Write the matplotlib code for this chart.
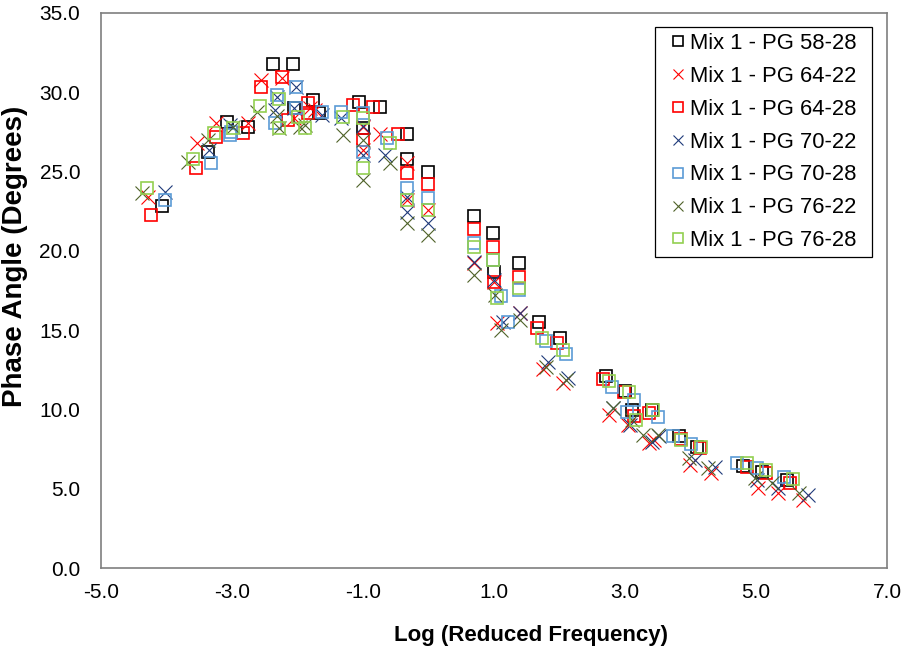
import matplotlib
matplotlib.use("Agg")
import matplotlib.pyplot as plt
from matplotlib.patches import Rectangle

plt.rcParams['font.family'] = ['Liberation Sans', 'DejaVu Sans']
plt.rcParams['axes.unicode_minus'] = False

# Phase angle master-curve data: log reduced frequency (x) vs phase angle in degrees (y)
x_58_28 = [5.48, 5.09, 4.80, 4.10, 3.83, 3.10, 3.41, 3.00, 2.71, 2.01, 1.68, 1.00, 1.38, 0.98, 0.69, 0.00,
           -0.33, -1.00, -0.33, -0.74, -1.06, -1.76, -2.07, -2.75, -1.67, -2.05, -2.37, -3.07, -3.36, -4.07]
y_58_28 = [5.55, 6.07, 6.43, 7.65, 8.32, 9.96, 9.96, 11.18, 12.12, 14.48, 15.49, 18.68, 19.21, 21.10, 22.21, 24.95,
           25.79, 27.72, 27.36, 29.09, 29.40, 29.51, 31.78, 27.79, 28.67, 29.02, 31.78, 28.14, 26.21, 22.82]

x_64_22 = [5.72, 5.34, 5.03, 4.32, 4.00, 3.36, 3.45, 3.05, 2.75, 2.06, 1.75, 1.04, 1.40, 1.00, 0.69, 0.00,
           -0.33, -1.00, -0.33, -0.74, -1.00, -1.73, -2.05, -2.76, -1.81, -2.24, -2.55, -3.25, -3.54, -4.28]
y_64_22 = [4.29, 4.71, 5.03, 5.97, 6.49, 7.86, 8.10, 9.02, 9.65, 11.65, 12.53, 15.43, 16.06, 18.05, 19.21, 22.57,
           23.20, 26.36, 25.52, 27.36, 27.83, 28.90, 28.40, 28.04, 28.99, 30.88, 30.77, 28.04, 26.78, 23.41]

x_64_28 = [5.52, 5.16, 4.86, 4.15, 3.85, 3.14, 3.36, 2.99, 2.66, 1.96, 1.66, 1.00, 1.38, 0.98, 0.69, 0.00,
           -0.33, -1.00, -0.46, -0.84, -1.15, -1.84, -2.14, -2.83, -1.84, -2.24, -2.55, -3.24, -3.55, -4.23]
y_64_28 = [5.34, 5.97, 6.39, 7.55, 8.11, 9.58, 9.79, 11.12, 11.90, 14.17, 15.11, 18.05, 18.33, 20.26, 21.37, 24.21,
           24.89, 26.99, 27.36, 29.09, 29.19, 29.30, 28.25, 27.41, 28.70, 30.94, 30.35, 27.19, 25.24, 22.26]

x_70_22 = [5.80, 5.34, 5.01, 4.37, 4.07, 3.41, 3.52, 3.08, 2.82, 2.13, 1.83, 1.14, 1.40, 1.00, 0.69, 0.00,
           -0.33, -1.00, -0.33, -0.66, -1.00, -1.33, -2.05, -2.34, -3.03, -1.63, -2.02, -2.32, -3.35, -4.02]
y_70_22 = [4.60, 5.03, 5.55, 6.39, 6.81, 7.96, 8.35, 9.02, 10.07, 11.96, 13.01, 15.53, 16.06, 18.16, 19.31, 21.73,
           22.47, 26.04, 23.41, 26.04, 27.90, 28.36, 29.00, 28.88, 27.94, 28.56, 30.35, 29.68, 26.36, 23.73]

x_70_28 = [5.42, 5.01, 4.71, 4.01, 3.73, 3.03, 3.51, 3.13, 2.80, 2.10, 1.79, 1.11, 1.22, 1.38, 0.98, 0.69, 0.00,
           -0.33, -1.00, -0.63, -1.00, -1.33, -2.02, -2.32, -3.02, -1.63, -2.03, -2.34, -3.03, -3.32, -4.02]
y_70_28 = [5.76, 6.29, 6.64, 7.82, 8.32, 9.86, 9.50, 10.59, 11.39, 13.49, 14.33, 17.15, 15.49, 17.53, 19.42, 20.47, 23.31,
           23.94, 26.25, 27.09, 28.67, 28.77, 30.35, 29.82, 27.51, 28.77, 29.00, 28.04, 27.30, 25.56, 23.20]

x_76_22 = [5.65, 5.24, 4.98, 4.27, 3.97, 3.28, 3.51, 3.10, 2.82, 2.10, 1.80, 1.11, 1.40, 1.02, 0.69, 0.00,
           -0.33, -1.00, -0.59, -1.00, -1.30, -1.96, -2.29, -2.98, -1.89, -2.32, -2.62, -3.37, -3.67, -4.38]
y_76_22 = [4.71, 5.34, 5.66, 6.29, 6.92, 8.39, 8.39, 9.33, 10.07, 11.85, 12.69, 15.01, 15.64, 17.21, 18.47, 21.00,
           21.73, 24.46, 25.52, 26.99, 27.30, 27.83, 27.72, 27.79, 27.94, 28.50, 28.77, 26.99, 25.62, 23.63]

x_76_28 = [5.57, 5.16, 4.86, 4.16, 3.86, 3.17, 3.42, 3.06, 2.75, 2.05, 1.74, 1.04, 1.38, 0.98, 0.69, 0.00,
           -0.33, -1.00, -0.59, -1.00, -1.30, -1.99, -2.29, -2.99, -1.89, -2.29, -2.58, -3.27, -3.60, -4.30]
y_76_28 = [5.59, 6.18, 6.60, 7.61, 8.07, 9.33, 9.96, 11.12, 11.79, 13.75, 14.52, 17.00, 17.64, 19.42, 20.26, 22.57,
           23.20, 25.20, 26.82, 28.36, 28.46, 28.46, 29.55, 27.72, 27.72, 27.72, 29.13, 27.41, 25.79, 23.94]

series_labels = ["Mix 1 - PG 58-28", "Mix 1 - PG 64-22", "Mix 1 - PG 64-28", "Mix 1 - PG 70-22",
                 "Mix 1 - PG 70-28", "Mix 1 - PG 76-22", "Mix 1 - PG 76-28"]
series_x = [x_58_28, x_64_22, x_64_28, x_70_22, x_70_28, x_76_22, x_76_28]
series_y = [y_58_28, y_64_22, y_64_28, y_70_22, y_70_28, y_76_22, y_76_28]

x_ticks = [-5.0, -3.0, -1.0, 1.0, 3.0, 5.0, 7.0]
y_ticks = [0.0, 5.0, 10.0, 15.0, 20.0, 25.0, 30.0, 35.0]

styles = [
    dict(marker='s', color='#000000', ms=9.0, mew=1.2),
    dict(marker='x', color='#FF0000', ms=10.0, mew=0.8),
    dict(marker='s', color='#FF0000', ms=9.0, mew=1.2),
    dict(marker='x', color='#1F3A7A', ms=10.0, mew=0.8),
    dict(marker='s', color='#5B9BD5', ms=9.0, mew=1.2),
    dict(marker='x', color='#4F6228', ms=10.0, mew=0.8),
    dict(marker='s', color='#92D050', ms=9.0, mew=1.2),
]

W, H = 904, 651
fig = plt.figure(figsize=(W / 100, H / 100), dpi=100)
ax = fig.add_axes([101 / W, 1 - 568 / H, 786 / W, 555 / H])

for xs, ys, lab, st in zip(series_x, series_y, series_labels, styles):
    ax.plot(xs, ys, linestyle='none', marker=st['marker'], markersize=st['ms'],
            markerfacecolor='none', markeredgecolor=st['color'], markeredgewidth=st['mew'],
            label=lab)

ax.set_xlim(-5.0, 7.0)
ax.set_ylim(0.0, 35.0)
ax.set_xticks(x_ticks)
ax.set_yticks(y_ticks)
ax.set_xticklabels([f"{v:.1f}" for v in x_ticks])
ax.set_yticklabels([f"{v:.1f}" for v in y_ticks])
ax.tick_params(axis='both', length=0, labelsize=15, colors='#000000')
ax.tick_params(axis='x', pad=11)
ax.tick_params(axis='y', pad=15)

for sp in ax.spines.values():
    sp.set_color('#7F7F7F')
    sp.set_linewidth(1.2)

fig.text(531 / W, 1 - 636 / H, "Log (Reduced Frequency)", ha='center', va='center',
         fontsize=16, fontweight='bold')
fig.text(15 / W, 1 - 256 / H, "Phase Angle (Degrees)", ha='center', va='center',
         rotation=90, fontsize=20, fontweight='bold')

# legend box drawn as a plain rectangle, entries placed inside it
box = Rectangle((655 / W, 1 - 257 / H), 217 / W, 230 / H, transform=fig.transFigure,
                facecolor='white', edgecolor='#000000', linewidth=0.9, zorder=4, clip_on=False)
ax.add_patch(box)

fs = 15.8
leg = ax.legend(loc='center left', bbox_to_anchor=(667 / W, 1 - 142 / H),
                bbox_transform=fig.transFigure, borderaxespad=0, borderpad=0,
                fontsize=fs, frameon=False, handlelength=1.0, handletextpad=0.05,
                labelspacing=0.54, markerscale=0.75)
leg.set_zorder(5)

fig.savefig("out.png", dpi=100)
